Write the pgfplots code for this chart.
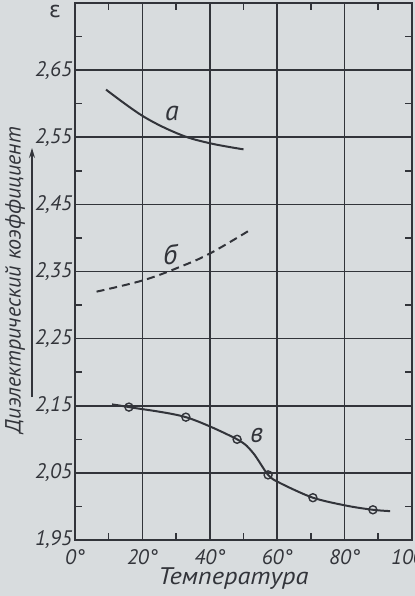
\documentclass[border=0pt]{standalone}
\usepackage{fontspec}
\setmainfont{PT Sans}
\newfontfamily\dejavu{DejaVu Sans}
\usepackage{pgfplots}
\pgfplotsset{compat=1.18}
\usetikzlibrary{arrows.meta}
\definecolor{paper}{RGB}{216,220,222}
\definecolor{ink}{RGB}{50,52,58}
\begin{document}
\begin{tikzpicture}
\fill[paper] (-37.5pt,-28pt) rectangle (170pt,270pt);
\begin{axis}[
  scale only axis, width=168.5pt, height=268.5pt,
  xmin=0, xmax=100, ymin=1.95, ymax=2.75,
  clip=false,
  axis line style={ink, line width=0.9pt},
  xtick={0,20,40,60,80,100},
  xticklabels={0°,20°,40°,60°,80°,100°},
  ytick={1.95,2.05,2.15,2.25,2.35,2.45,2.55,2.65},
  yticklabels={{1,95},{2,05},{2,15},{2,25},{2,35},{2,45},{2,55},{2,65}},
  minor xtick={10,30,50,70,90},
  minor ytick={2.00,2.10,2.20,2.30,2.40,2.50,2.60,2.70},
  grid=major, major grid style={ink, line width=0.8pt},
  tick align=inside, major tick length=0pt, minor tick length=3.5pt,
  tick style={ink, line width=0.8pt},
  ticklabel style={font=\fontsize{10.5}{12}\selectfont\itshape, text=ink},
  yticklabel style={xshift=2pt},
  xticklabel style={inner sep=0.5pt, yshift=-4pt},
  /pgf/number format/assume math mode=true,
  xlabel={Температура},
  xlabel style={font=\fontsize{12}{14}\selectfont\itshape\addfontfeature{FakeStretch=1.1}, text=ink, inner sep=0.5pt, at={(axis description cs:0.47,-0.0726)}, anchor=center},
  ylabel={Диэлектрический коэффициент},
  ylabel style={font=\fontsize{11}{13}\selectfont\itshape, text=ink, at={(axis description cs:-0.178,0.484)}, anchor=center},
]
% curve a
\addplot[ink, line width=1pt, smooth, tension=0.6] coordinates {
  (9.2,2.621) (20.3,2.581) (31.2,2.554) (40.1,2.541) (50,2.532)};
% curve b (dashed)
\addplot[ink, line width=1pt, smooth, tension=0.6, dash pattern=on 4pt off 2.5pt] coordinates {
  (6.4,2.320) (20.3,2.337) (31.2,2.357) (40.1,2.377) (52,2.412)};
% curve v
\addplot[ink, line width=1pt, smooth, tension=0.5] coordinates {
  (11,2.152) (16.0,2.148) (32.9,2.133) (48.1,2.100) (52.8,2.080) (57.3,2.047)
  (60.8,2.035) (70.6,2.013) (80.7,2.001) (88.4,1.995) (93.5,1.993)};
\addplot[only marks, mark=o, mark size=2pt, mark options={ink, fill=paper, line width=0.7pt}] coordinates {
  (16.0,2.148) (32.9,2.133) (48.1,2.100) (57.3,2.047) (70.6,2.013) (88.4,1.995)};
\node[font=\fontsize{14}{16}\selectfont\itshape, text=ink] at (axis cs:28.8,2.586) {а};
\node[font=\fontsize{14}{16}\selectfont\itshape, text=ink] at (axis cs:28.2,2.375) {б};
\node[font=\fontsize{14}{16}\selectfont\itshape, text=ink] at (axis cs:53.9,2.106) {в};
\node[text=ink, font=\fontsize{11}{13}\selectfont\dejavu] at (axis description cs:-0.059,0.985) {ε};
\draw[ink, line width=0.6pt, -{Stealth[length=5pt,width=3pt]}] (axis description cs:-0.1276,0.266) -- (axis description cs:-0.1276,0.730);
\end{axis}
\pgfresetboundingbox
\path[use as bounding box] (-37.5pt,-28pt) rectangle (170pt,270pt);
\end{tikzpicture}
\end{document}
